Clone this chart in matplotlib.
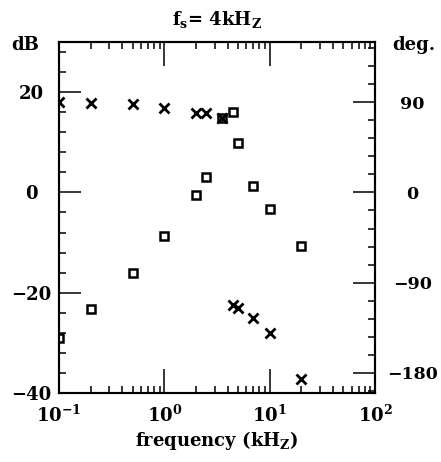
import numpy as np
import matplotlib
matplotlib.use('Agg')
import matplotlib.pyplot as plt
from matplotlib.ticker import MultipleLocator, LogLocator

plt.rcParams['font.family'] = ['DejaVu Serif']
plt.rcParams['font.weight'] = 'bold'
plt.rcParams['mathtext.default'] = 'regular'

# magnitude (squares, left axis, dB)
freq_mag = [0.1, 0.2, 0.5, 1.0, 2.0, 2.5, 3.5, 4.5, 5.0, 7.0, 10.0, 20.0]
mag_db = [-29, -23.2, -16, -8.6, -0.6, 3.0, 14.8, 16.0, 9.8, 1.2, -3.4, -10.6]

# phase (crosses, right axis, degrees)
freq_ph = [0.1, 0.2, 0.5, 1.0, 2.0, 2.5, 3.5, 4.5, 5.0, 7.0, 10.0, 20.0]
phase_deg = [90, 89, 88, 84, 79, 79, 74, -112, -115, -125, -140, -186]

left_ticks = [-40, -20, 0, 20]
right_ticks = [-180, -90, 0, 90]

fig = plt.figure(figsize=(4.41, 4.62), dpi=100)
ax = fig.add_axes([59/441, 1 - 393/462, 316/441, 351/462])
ax2 = ax.twinx()

ax.plot(freq_mag, mag_db, linestyle='none', marker='s', markersize=6,
        markerfacecolor='white', markeredgecolor='black', markeredgewidth=1.8)
ax2.plot(freq_ph, phase_deg, linestyle='none', marker='x', markersize=7,
         color='black', markeredgewidth=2.0)

ax.set_xscale('log')
ax.set_xlim(0.1, 100)
ax.set_ylim(-40, 30)
ax2.set_ylim(-200, 150)

ax.set_yticks(left_ticks)
ax.yaxis.set_minor_locator(MultipleLocator(4))
ax2.set_yticks(right_ticks)
ax2.yaxis.set_minor_locator(MultipleLocator(18))
ax.xaxis.set_major_locator(LogLocator(base=10))
ax.xaxis.set_minor_locator(LogLocator(base=10, subs=np.arange(2, 10)))

for a in (ax, ax2):
    for s in a.spines.values():
        s.set_linewidth(1.5)

ax.tick_params(axis='x', which='both', direction='in', top=True, bottom=True,
               width=1.1, labelsize=13, pad=8)
ax.tick_params(axis='x', which='major', length=17)
ax.tick_params(axis='x', which='minor', length=5)
ax.tick_params(axis='y', which='both', direction='in', left=True, right=False,
               width=1.1, labelsize=13, pad=20)
ax.tick_params(axis='y', which='major', length=16)
ax.tick_params(axis='y', which='minor', length=5)
ax2.tick_params(axis='y', which='both', direction='in', right=True, left=False,
                width=1.1, labelsize=12.5, pad=27)
ax2.tick_params(axis='y', which='major', length=16)
ax2.tick_params(axis='y', which='minor', length=5)
for lab in ax.get_yticklabels():
    lab.set_horizontalalignment('center')
for lab in ax2.get_yticklabels():
    lab.set_horizontalalignment('center')

fig.text(217/441, 1 - 20/462, '$f_s$= 4kH$_Z$', ha='center', va='center', fontsize=13)
fig.text(25/441, 1 - 45/462, 'dB', ha='center', va='center', fontsize=13)
fig.text(414/441, 1 - 45/462, 'deg.', ha='center', va='center', fontsize=13)
fig.text(217/441, 1 - 440/462, 'frequency (kH$_Z$)', ha='center', va='center', fontsize=13)

fig.savefig('out.png', dpi=100)
